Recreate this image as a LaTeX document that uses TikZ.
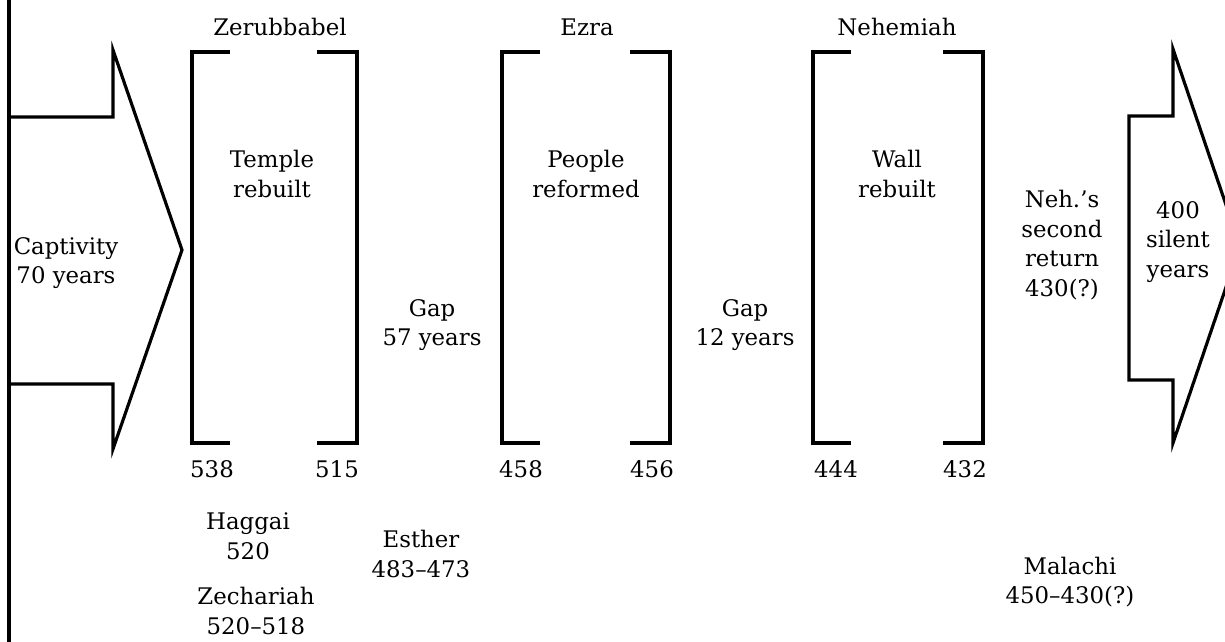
\documentclass[tikz,border=0pt]{standalone}
\usepackage{fontspec}
\setmainfont{DejaVu Serif}
\begin{document}
\begin{tikzpicture}[x=0.02cm,y=-0.02cm,
  shape line/.style={line width=1.8pt,line join=miter},
  lbl/.style={align=center,inner sep=0pt,font=\fontsize{13}{16.8}\selectfont},
  num/.style={inner sep=0pt,font=\fontsize{13}{16.8}\selectfont}]
\useasboundingbox (0,0) rectangle (1225,642);
% left border
\coordinate (bt) at (9,0);
\coordinate (bb) at (9,642);
\draw[shape line] (bt) -- (bb);
% left arrow
\draw[shape line] (9,117) -- (113,117) -- (113,50) -- (182,250) -- (113,449) -- (113,384) -- (9,384);
\node[lbl] (capt) at (66,263) {Captivity\\70 years};
% right arrow
\draw[shape line] (1173,49) -- (1173,116) -- (1129,116) -- (1129,380) -- (1173,380) -- (1173,443) -- (1240,246) -- cycle;
\node[lbl] (silent) at (1178,242) {400\\silent\\years};
% brackets
\foreach \l/\r in {192/357, 502/670, 813/983}{
  \draw[shape line] (\l+38,52) -- (\l,52) -- (\l,443) -- (\l+38,443);
  \draw[shape line] (\r-40,52) -- (\r,52) -- (\r,443) -- (\r-40,443);
}
\node[lbl] (zer) at (280,27) {Zerubbabel};
\node[lbl] (ezra) at (587,27) {Ezra};
\node[lbl] (neh) at (897,27) {Nehemiah};
\node[lbl] (temple) at (272,174) {Temple\\rebuilt};
\node[lbl] (people) at (586,174) {People\\reformed};
\node[lbl] (wall) at (897,174) {Wall\\rebuilt};
\node[lbl] (gap1) at (432,325) {Gap\\57 years};
\node[lbl] (gap2) at (745,325) {Gap\\12 years};
\node[lbl] (second) at (1062,245) {Neh.’s\\second\\return\\430(?)};
% dates
\node[num] (d538) at (212,469) {538};
\node[num] (d515) at (337,469) {515};
\node[num] (d458) at (521,469) {458};
\node[num] (d456) at (652,469) {456};
\node[num] (d444) at (836,469) {444};
\node[num] (d432) at (965,469) {432};
\node[lbl] (haggai) at (248,536) {Haggai\\520};
\node[lbl] (esther) at (421,554) {Esther\\483–473};
\node[lbl] (zech) at (256,611) {Zechariah\\520–518};
\node[lbl] (mal) at (1070,582) {Malachi\\450–430(?)};
\end{tikzpicture}
\end{document}
